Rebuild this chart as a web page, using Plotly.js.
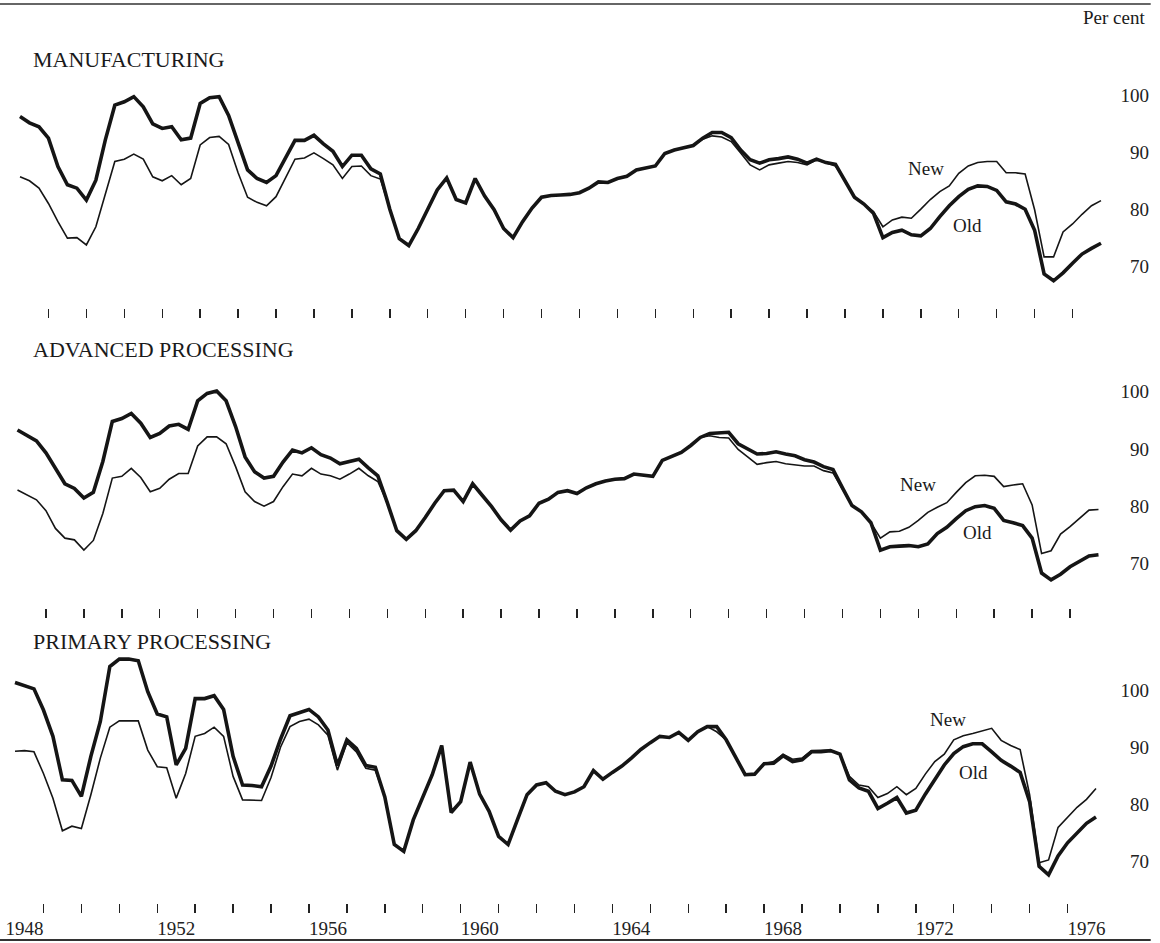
<!DOCTYPE html>
<html>
<head>
<meta charset="utf-8">
<script src="https://cdn.plot.ly/plotly-3.0.1.min.js"></script>
<style>
html,body{margin:0;padding:0;background:#fff;}
#chart{width:1160px;height:943px;}
</style>
</head>
<body>
<div id="chart"></div>
<script>
// Quarterly series, 1948 Q1 .. 1976 Q3 (plotted at end of quarter)
const firstYear = 1948;
const firstQuarter = 1;

const mfgOld = [96.3,95.2,94.5,92.5,87.5,84.3,83.7,81.6,85.1,92.2,98.3,98.9,99.8,98.0,95.0,94.2,94.5,92.2,92.5,98.6,
99.6,99.8,96.5,91.5,86.9,85.4,84.7,85.9,88.9,92.1,92.1,93.0,91.5,90.2,87.5,89.5,89.5,87.1,86.2,80.0,
74.8,73.6,76.6,79.9,83.4,85.5,81.7,81.1,85.4,82.3,79.9,76.6,75.0,77.8,80.2,82.1,82.4,82.5,82.6,82.9,
83.7,84.8,84.7,85.4,85.8,86.9,87.2,87.6,89.8,90.4,90.8,91.2,92.5,93.5,93.5,92.6,90.4,88.7,88.1,88.7,
88.9,89.2,88.8,88.1,88.8,88.2,87.9,85.1,82.1,80.9,79.3,75.0,75.9,76.3,75.5,75.3,76.6,78.7,80.6,82.2,
83.5,84.1,84.0,83.3,81.3,80.9,80.0,76.3,68.6,67.4,68.8,70.5,72.1,73.1,74.0];
const mfgNew = [85.7,85.0,83.7,81.0,77.8,74.9,75.0,73.7,76.9,82.5,88.4,88.8,89.7,88.8,85.7,85.0,85.9,84.3,85.4,91.3,
92.6,92.8,91.4,86.4,82.1,81.2,80.6,82.2,85.4,88.8,89.0,89.9,88.9,87.8,85.4,87.5,87.6,85.9,85.3,80.0,
74.8,73.6,76.6,79.9,83.4,85.5,81.7,81.1,85.4,82.3,79.9,76.6,75.0,77.8,80.2,82.1,82.4,82.5,82.6,82.9,
83.7,84.8,84.7,85.4,85.8,86.9,87.2,87.6,89.8,90.4,90.8,91.2,92.3,92.9,92.7,91.9,89.9,87.8,86.9,87.8,
88.1,88.4,88.2,87.8,88.7,88.1,87.6,85.1,82.1,80.9,79.6,76.9,78.1,78.6,78.4,80.0,81.7,83.1,84.1,86.3,
87.6,88.2,88.4,88.4,86.4,86.4,86.2,79.9,71.6,71.6,76.0,77.4,79.1,80.6,81.5];

const advOld = [93.3,92.4,91.4,89.3,86.6,83.9,83.1,81.4,82.4,87.8,94.8,95.3,96.2,94.5,92.0,92.7,94.0,94.3,93.4,98.4,
99.7,100.1,98.4,93.9,88.6,86.0,84.9,85.2,87.7,89.8,89.3,90.2,89.0,88.4,87.4,87.8,88.2,86.7,85.3,80.6,
75.7,74.2,75.7,78.0,80.5,82.7,82.8,80.8,83.9,81.9,79.9,77.6,75.8,77.4,78.3,80.5,81.2,82.4,82.7,82.2,
83.2,83.9,84.4,84.7,84.8,85.6,85.4,85.2,88.0,88.7,89.4,90.6,92.0,92.7,92.8,92.9,90.9,90.0,89.1,89.2,
89.5,89.1,88.8,88.1,87.7,86.9,86.4,83.2,80.1,79.0,77.1,72.3,72.9,73.0,73.1,72.9,73.4,75.2,76.3,77.8,
79.2,79.9,80.1,79.6,77.5,77.1,76.6,74.4,68.3,67.1,68.1,69.4,70.3,71.3,71.5];
const advNew = [82.8,81.9,81.1,79.2,76.1,74.4,74.1,72.3,74.0,78.7,84.9,85.2,86.6,85.0,82.5,83.1,84.7,85.7,85.7,90.5,
92.1,92.1,90.9,86.9,82.5,80.8,80.0,80.8,83.4,85.6,85.3,86.6,85.6,85.3,84.7,85.6,86.6,85.3,84.3,80.6,
75.7,74.2,75.7,78.0,80.5,82.7,82.8,80.8,83.9,81.9,79.9,77.6,75.8,77.4,78.3,80.5,81.2,82.4,82.7,82.2,
83.2,83.9,84.4,84.7,84.8,85.6,85.4,85.2,88.0,88.7,89.4,90.6,92.0,92.3,92.0,91.9,89.9,88.6,87.3,87.6,
87.8,87.4,87.2,87.0,87.0,86.2,85.8,82.9,80.1,79.0,77.1,74.4,75.5,75.6,76.3,77.5,78.9,79.8,80.6,82.4,
84.1,85.3,85.4,85.2,83.4,83.7,83.9,80.2,71.7,72.2,75.1,76.4,77.9,79.3,79.4];

const priOld = [101.3,100.7,100.2,96.5,91.9,84.3,84.2,81.4,88.4,94.5,104.1,105.4,105.4,105.1,99.7,95.8,95.3,86.9,89.8,98.5,
98.5,99.0,96.6,88.4,83.4,83.3,83.1,86.7,91.4,95.5,96.0,96.6,95.3,93.0,86.8,91.3,89.8,86.8,86.5,81.3,
73.0,71.8,77.3,81.3,85.2,90.3,78.6,80.5,87.4,81.8,78.8,74.4,73.0,77.4,81.7,83.4,83.8,82.3,81.7,82.2,
83.1,85.9,84.4,85.6,86.7,88.1,89.6,90.8,91.9,91.7,92.6,91.2,92.7,93.6,93.6,91.3,88.2,85.2,85.3,87.1,
87.2,88.5,87.5,87.8,89.2,89.2,89.4,88.8,84.3,82.9,82.3,79.3,80.2,81.2,78.5,79.0,81.8,84.4,86.9,88.9,
90.1,90.6,90.6,89.2,87.7,86.7,85.6,80.5,69.2,67.7,71.0,73.3,75.1,76.7,77.8];
const priNew = [89.3,89.4,89.2,85.4,81.1,75.4,76.2,75.8,81.7,88.1,93.5,94.6,94.6,94.6,89.5,86.6,86.4,81.1,85.4,91.9,
92.4,93.5,91.9,84.9,80.8,80.8,80.7,84.7,90.0,93.6,94.5,94.9,93.9,92.1,86.0,90.8,89.2,86.3,86.0,81.3,
73.0,71.8,77.3,81.3,85.2,90.3,78.6,80.5,87.4,81.8,78.8,74.4,73.0,77.4,81.7,83.4,83.8,82.3,81.7,82.2,
83.1,85.9,84.4,85.6,86.7,88.1,89.6,90.8,91.9,91.7,92.6,91.2,92.7,93.6,92.7,91.3,88.2,85.2,85.3,87.1,
87.5,88.8,87.9,88.1,89.4,89.5,89.5,88.8,84.9,83.4,83.1,81.2,81.9,83.1,81.7,82.8,85.3,87.5,88.8,91.3,
92.0,92.4,92.9,93.3,91.2,90.3,89.6,81.7,69.8,70.3,76.0,77.8,79.5,80.9,82.8];

const tickYears = [1949,1950,1951,1952,1953,1954,1955,1956,1957,1958,1959,1960,1961,1962,
1963,1964,1965,1966,1967,1968,1969,1970,1971,1972,1973,1974,1975,1976];
const labelYears = [1948,1952,1956,1960,1964,1968,1972,1976];
const yTicks = [70,80,90,100];
const panelTitles = ['MANUFACTURING','ADVANCED PROCESSING','PRIMARY PROCESSING'];

const x = mfgOld.map((_, i) => firstYear + (firstQuarter + i) / 4);

const serif = "'Liberation Serif', 'Times New Roman', serif";
const ink = '#151515';

function pair(newVals, oldVals, xa, ya) {
  return [
    {x: x, y: newVals, xaxis: xa, yaxis: ya, mode: 'lines', name: 'New',
     line: {color: ink, width: 1.6}, hoverinfo: 'skip', showlegend: false},
    {x: x, y: oldVals, xaxis: xa, yaxis: ya, mode: 'lines', name: 'Old',
     line: {color: ink, width: 3.6}, hoverinfo: 'skip', showlegend: false}
  ];
}

const data = [].concat(
  pair(mfgNew, mfgOld, 'x', 'y'),
  pair(advNew, advOld, 'x2', 'y2'),
  pair(priNew, priOld, 'x3', 'y3')
);

const tickAxis = {
  showgrid: false, zeroline: false, showline: false, fixedrange: true,
  tickmode: 'array', tickvals: tickYears, ticks: 'outside', ticklen: 9,
  tickwidth: 1.4, tickcolor: '#222', showticklabels: false
};
const yFont = {family: serif, size: 19, color: '#222'};
function yAxis(domain, range, anchor) {
  return {
    domain: domain, range: range, anchor: anchor, side: 'right',
    showgrid: false, zeroline: false, showline: false, fixedrange: true,
    tickmode: 'array', tickvals: yTicks, ticks: '',
    ticklabelposition: 'inside', ticklabelstandoff: 8, tickfont: yFont
  };
}

const titleFont = {family: serif, size: 22, color: '#1a1a1a'};
const labFont = {family: serif, size: 19, color: '#1a1a1a'};
function title(text, yp) {
  return {text: text, xref: 'paper', yref: 'paper', x: 0.027, y: yp,
          xanchor: 'left', yanchor: 'middle', showarrow: false, font: titleFont};
}
function lab(text, xa, ya, xv, yv) {
  return {text: text, xref: xa, yref: ya, x: xv, y: yv,
          xanchor: 'center', yanchor: 'middle', showarrow: false, font: labFont};
}

const layout = {
  width: 1160, height: 943,
  margin: {l: 0, r: 0, t: 0, b: 40},
  paper_bgcolor: '#fff', plot_bgcolor: '#fff',
  showlegend: false,
  xaxis: Object.assign({}, tickAxis, {range: [1947.7227, 1978.3057], anchor: 'y', domain: [0, 1]}),
  xaxis2: Object.assign({}, tickAxis, {range: [1947.7886, 1978.3716], anchor: 'y2', domain: [0, 1]}),
  xaxis3: {
    range: [1947.8545, 1978.4375], anchor: 'y3', domain: [0, 1],
    showgrid: false, zeroline: false, showline: false, fixedrange: true,
    tickmode: 'array', tickvals: labelYears.map(v => v + 0.5),
    ticktext: labelYears.map(String), ticks: '',
    tickfont: {family: serif, size: 19, color: '#222'}, ticklabelstandoff: 12,
    minor: {tickmode: 'array', tickvals: tickYears, ticks: 'outside', ticklen: 9,
            tickwidth: 1.4, tickcolor: '#222', showgrid: false}
  },
  yaxis: yAxis([0.65891, 0.92248], [62.61, 104.49], 'x'),
  yaxis2: yAxis([0.32669, 0.59025], [62.19, 103.79], 'x2'),
  yaxis3: yAxis([0, 0.28018], [62.78, 106.99], 'x3'),
  annotations: [
    title(panelTitles[0], 0.93466),
    title(panelTitles[1], 0.61351),
    title(panelTitles[2], 0.29014),
    {text: 'Per cent', xref: 'paper', yref: 'paper', x: 0.9888, y: 0.98117,
     xanchor: 'right', yanchor: 'middle', showarrow: false, font: labFont},
    lab('New', 'x', 'y', 1972.14, 87.24),
    lab('Old', 'x', 'y', 1973.24, 77.21),
    lab('New', 'x2', 'y2', 1971.99, 83.86),
    lab('Old', 'x2', 'y2', 1973.57, 75.30),
    lab('New', 'x3', 'y3', 1972.85, 94.76),
    lab('Old', 'x3', 'y3', 1973.53, 85.50)
  ],
  shapes: [
    {type: 'line', xref: 'paper', yref: 'paper', x0: 0, x1: 0.992, y0: 0.99557, y1: 0.99557,
     line: {color: '#333', width: 1.6}},
    {type: 'line', xref: 'paper', yref: 'paper', x0: 0, x1: 0.992, y0: -0.04097, y1: -0.04097,
     line: {color: '#333', width: 2}}
  ]
};

Plotly.newPlot('chart', data, layout, {displayModeBar: false, staticPlot: true});
</script>
</body>
</html>
